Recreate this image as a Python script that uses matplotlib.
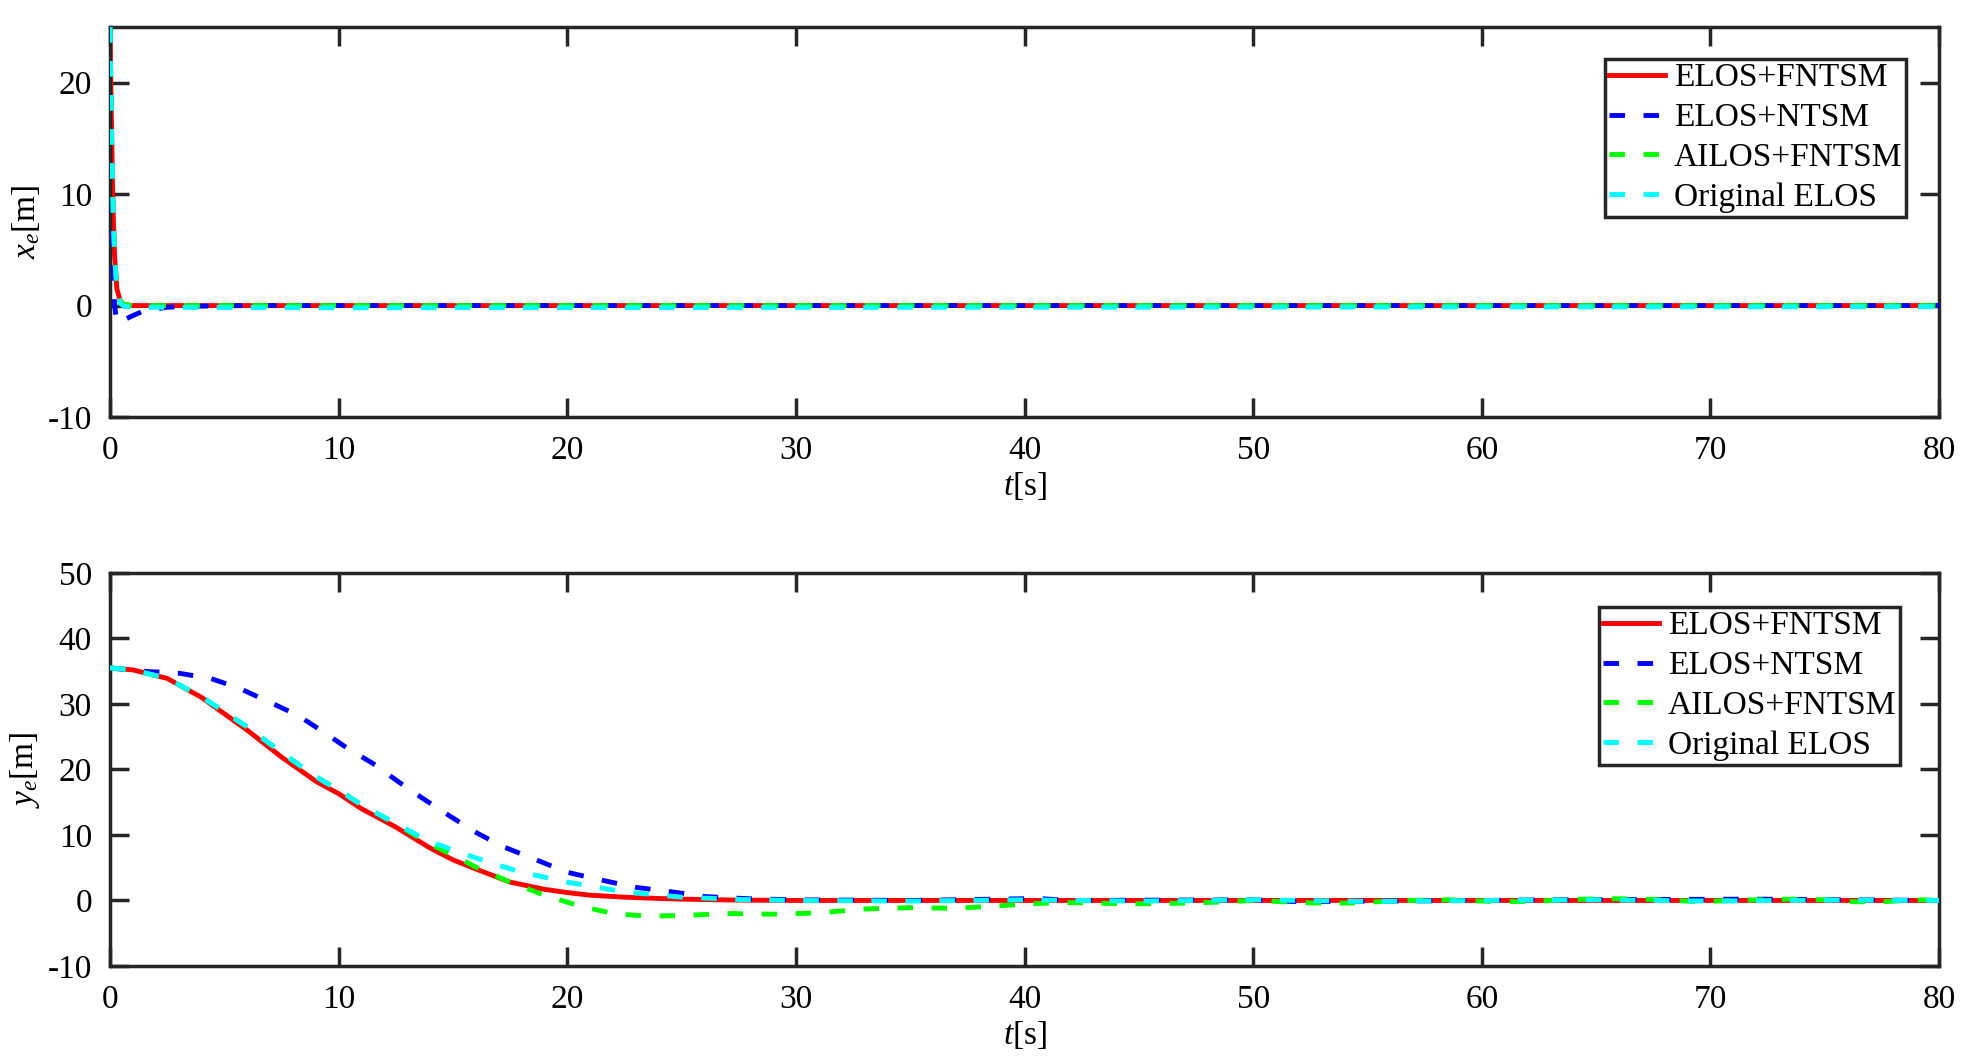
import matplotlib
matplotlib.use('Agg')
import matplotlib.pyplot as plt

plt.rcParams['font.family'] = ['Liberation Serif', 'DejaVu Serif']
plt.rcParams['mathtext.fontset'] = 'custom'
plt.rcParams['mathtext.rm'] = 'Liberation Serif'
plt.rcParams['mathtext.it'] = 'Liberation Serif:italic'
plt.rcParams['axes.unicode_minus'] = False

# ── Data ─────────────────────────────────────────────────────────────────────
labels = ['ELOS+FNTSM', 'ELOS+NTSM', 'AILOS+FNTSM', 'Original ELOS']
colors = ['#ff0000', '#0000ff', '#00ff00', '#00ffff']

# x_e (top panel)
t_x_red = [0, 0.05, 0.1, 0.15, 0.2, 0.3, 0.45, 0.6, 1.0, 80]
x_red = [25, 18, 12, 7.5, 4.5, 1.5, 0.4, 0.1, 0.0, 0.0]
t_x_blue = [0, 0.05, 0.1, 0.15, 0.2, 0.3, 0.5, 1.0, 1.5, 2.5, 4.0, 6.0, 80]
x_blue = [25, 15, 7, 2.5, 0.0, -1.5, -1.4, -0.9, -0.45, -0.15, -0.05, 0.0, 0.0]
t_x_green = [0, 0.05, 0.1, 0.15, 0.2, 0.3, 0.45, 0.6, 1.0, 80]
x_green = [25, 18, 12, 7.5, 4.5, 1.5, 0.4, 0.1, 0.0, 0.0]
t_x_cyan = [0, 0.05, 0.1, 0.15, 0.2, 0.3, 0.45, 0.6, 1.0, 10, 40, 80]
x_cyan = [25, 18, 12, 7.5, 4.5, 1.4, 0.2, -0.05, -0.15, -0.2, -0.15, -0.1]

# y_e (bottom panel)
t_y_red = [0, 1, 2.5, 4, 5, 6, 7.5, 9, 10, 11, 12.5, 14, 15, 16, 17.5, 19, 20,
           21, 22.5, 24, 25, 27.5, 30, 80]
y_red = [35.5, 35.2, 33.9, 31.0, 28.5, 26.0, 21.9, 18.2, 16.3, 14.0, 11.2, 8.0,
         6.2, 4.8, 2.8, 1.7, 1.2, 0.8, 0.5, 0.3, 0.2, 0.05, 0.0, 0.0]
t_y_blue = [0, 1.4, 3, 4.4, 5.65, 6.9, 8.2, 9.3, 10.4, 11.6, 12.7, 13.8, 14.9, 16.1,
            17.2, 18.5, 20, 21.5, 23, 24.6, 26, 28, 30, 35, 40.6, 42, 50, 52, 60,
            63, 72, 80]
y_blue = [35.5, 35.0, 34.7, 33.9, 32.4, 30.4, 28.3, 25.8, 23.2, 20.7, 17.9, 15.3,
          12.8, 10.2, 8.2, 6.4, 4.3, 3.1, 2.0, 1.3, 0.6, 0.25, 0.1, 0.0, 0.3, 0.0,
          0.1, -0.2, 0.0, 0.1, 0.2, 0.0]
t_y_green = [0, 1, 2.5, 4, 5, 6, 7.5, 9, 10, 11, 12.5, 14, 15, 16, 17.5, 19, 20.5,
             22, 23.5, 25, 27, 29, 31, 33, 35, 37, 38.9, 40.4, 41.6, 43, 44.3, 45.8,
             47, 48.5, 50, 51, 52.7, 54.2, 55.4, 56.9, 58.5, 60.7, 62.2, 63.7, 64.9,
             66.4, 67.9, 69.5, 71, 72.1, 73.6, 75.1, 76.3, 77.5, 79.3, 80]
y_green = [35.5, 35.2, 33.9, 31.1, 28.8, 26.5, 22.6, 18.9, 16.9, 14.6, 11.7, 8.6,
           6.9, 5.1, 2.8, 0.8, -0.8, -2.0, -2.4, -2.3, -2.0, -2.1, -1.9, -1.3,
           -1.1, -1.2, -0.8, -0.5, -0.3, -0.4, -0.5, -0.5, -0.4, -0.25, 0.0, -0.15,
           -0.4, -0.4, -0.2, 0.0, 0.1, -0.2, -0.15, 0.1, 0.25, 0.25, 0.1, -0.2,
           0.0, 0.1, 0.2, 0.1, -0.2, -0.2, 0.1, 0.0]
t_y_cyan = [0, 1, 2.5, 4, 5, 6, 7.5, 9, 10, 11, 12.5, 14, 15, 16.5, 18, 20, 22.5,
            25, 27.5, 30, 35, 40, 45, 50, 55, 60, 65, 70, 75, 80]
y_cyan = [35.5, 35.2, 33.9, 31.1, 28.8, 26.5, 22.6, 18.9, 16.8, 14.6, 11.7, 9.0,
          7.7, 5.9, 4.3, 2.8, 1.3, 0.5, 0.15, 0.0, -0.1, 0.1, -0.1, 0.1, -0.15,
          0.0, 0.1, -0.1, 0.05, 0.0]

# ── Figure ───────────────────────────────────────────────────────────────────
fig = plt.figure(figsize=(19.68, 10.63), dpi=100)
ax1 = fig.add_axes([0.0559, 0.6077, 0.9294, 0.3669])
ax2 = fig.add_axes([0.0559, 0.0913, 0.9294, 0.3697])

spine_c = '#262626'
fs = 24

def style(ax, ylim, yticks, ylabel):
    ax.set_xlim(0, 80)
    ax.set_ylim(*ylim)
    ax.set_xticks(range(0, 81, 10))
    ax.set_yticks(yticks)
    ax.tick_params(direction='in', length=14, width=2.5, color=spine_c,
                   top=True, right=True, labelsize=fs, pad=13)
    for s in ax.spines.values():
        s.set_linewidth(2.5)
        s.set_color(spine_c)
    ax.set_xlabel(r'$t$[s]', fontsize=fs, labelpad=3)
    ax.set_ylabel(ylabel, fontsize=fs, labelpad=4)

def draw(ax, series):
    for (tt, yy), lab, col in zip(series, labels, colors):
        if lab == 'ELOS+FNTSM':
            ax.plot(tt, yy, color=col, lw=3.5, label=lab, zorder=2)
        else:
            ax.plot(tt, yy, color=col, lw=3.5, ls=(0, (3.2, 3.8)), label=lab, zorder=3)

def legend(ax, anchor):
    leg = ax.legend(loc='upper right', bbox_to_anchor=anchor, borderaxespad=0,
                    fontsize=fs, frameon=True, fancybox=False, edgecolor='#262626',
                    framealpha=1, handlelength=1.7, handletextpad=0.25,
                    labelspacing=0.28, borderpad=0.12)
    leg.get_frame().set_linewidth(2.5)

draw(ax1, [(t_x_red, x_red), (t_x_blue, x_blue), (t_x_green, x_green), (t_x_cyan, x_cyan)])
style(ax1, (-10, 25), [-10, 0, 10, 20], r'$x_e$[m]')
legend(ax1, (0.982, 0.918))

draw(ax2, [(t_y_red, y_red), (t_y_blue, y_blue), (t_y_green, y_green), (t_y_cyan, y_cyan)])
style(ax2, (-10, 50), [-10, 0, 10, 20, 30, 40, 50], r'$y_e$[m]')
legend(ax2, (0.9787, 0.9135))

plt.savefig('out.png', dpi=100)
plt.close()
